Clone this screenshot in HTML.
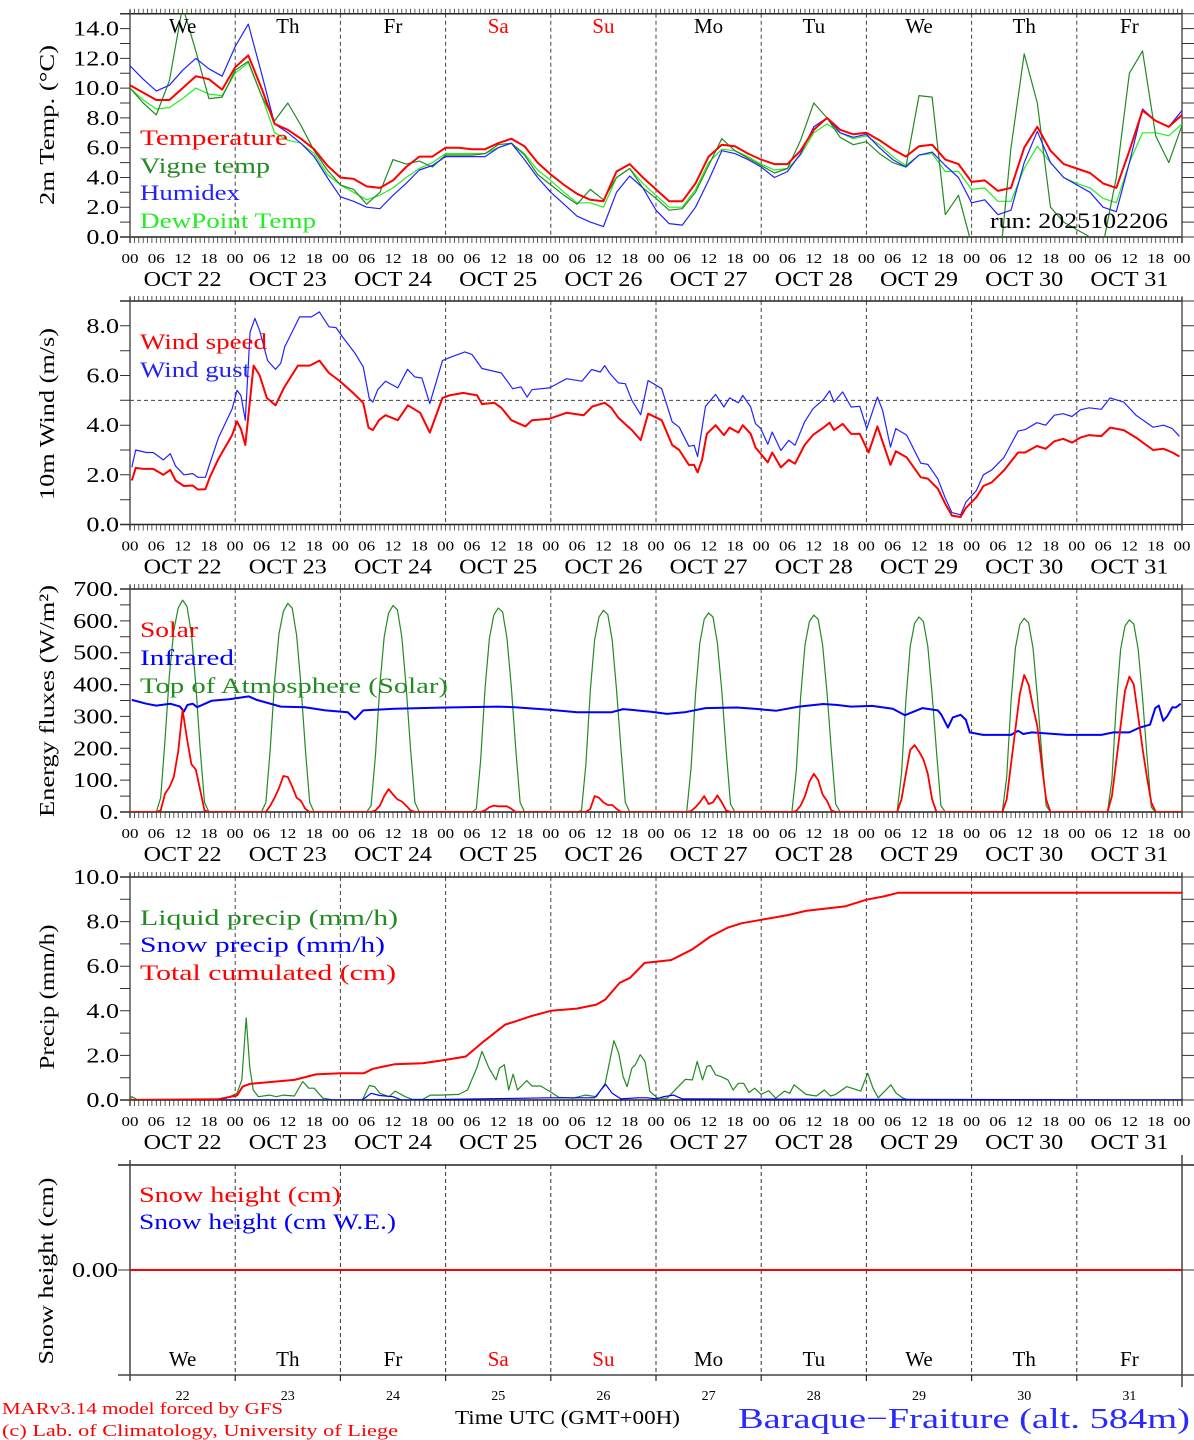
<!DOCTYPE html>
<html><head><meta charset="utf-8"><style>
html,body{margin:0;padding:0;background:#fff;}
svg{display:block;}
text{font-family:"Liberation Serif","DejaVu Serif",serif;}
</style></head><body>
<svg id="chart" xmlns="http://www.w3.org/2000/svg" width="1194" height="1440" viewBox="0 0 1194 1440"></svg>
<script>
// ===== DATA =====
const dayNames = ["We","Th","Fr","Sa","Su","Mo","Tu","We","Th","Fr"];
const dayNums = ["22","23","24","25","26","27","28","29","30","31"];
const hourLabels = ["00","06","12","18"];
const tempHours = [0,3,6,9,12,15,18,21,24,27,30,33,36,39,42,45,48,51,54,57,60,63,66,69,72,75,78,81,84,87,90,93,96,99,102,105,108,111,114,117,120,123,126,129,132,135,138,141,144,147,150,153,156,159,162,165,168,171,174,177,180,183,186,189,192,195,198,201,204,207,210,213,216,219,222,225,228,231,234,237,240];
const temperature = [10.2,9.7,9.2,9.2,10.0,10.8,10.6,9.9, 11.4,12.2,10.0,7.6,7.2,6.6,5.9,4.8, 4.0,3.9,3.4,3.3,3.8,4.7,5.4,5.4, 6.0,6.0,5.9,5.9,6.3,6.6,6.1,5.0, 4.2,3.5,2.9,2.5,2.4,4.4,4.9,4.0, 3.2,2.4,2.4,3.6,5.4,6.2,6.1,5.6, 5.2,4.9,4.9,5.8,7.2,8.0,7.2,6.9, 7.0,6.5,5.9,5.4,6.1,6.2,5.2,4.9, 3.7,3.8,3.1,3.3,6.0,7.4,5.8,4.9, 4.6,4.3,3.6,3.3,5.8,8.5,7.8,7.4, 8.2];
const humidex = [11.5,10.6,9.8,10.2,11.2,12.0,11.3,10.8, 12.8,14.3,11.0,7.6,7.0,6.3,5.4,4.0, 2.7,2.4,2.0,1.9,2.8,3.6,4.5,4.8, 5.4,5.4,5.4,5.4,6.0,6.3,5.2,4.0, 3.0,2.2,1.4,1.0,0.7,3.0,4.1,3.3, 1.8,0.9,0.8,2.0,3.8,5.8,5.6,5.2, 4.7,4.0,4.4,5.6,7.4,8.0,7.0,6.7, 6.9,6.0,5.2,4.7,5.5,5.7,4.8,4.0, 2.3,2.5,1.5,1.8,5.0,7.1,5.0,4.0, 3.5,3.0,2.0,1.7,5.0,8.6,7.8,7.4, 8.5];
const dewPoint = [10.0,9.2,8.6,8.7,9.3,10.0,9.6,9.5, 11.0,11.7,9.5,7.0,6.5,6.3,5.6,4.2, 3.5,3.0,2.5,2.8,3.3,4.0,4.6,5.0, 5.6,5.6,5.6,5.6,6.0,6.3,5.6,4.5, 3.8,3.0,2.3,2.3,2.0,4.0,4.6,3.6, 2.8,2.0,2.0,3.2,5.0,5.9,5.8,5.4, 4.9,4.5,4.6,5.5,7.0,7.6,7.0,6.6, 6.8,6.2,5.4,4.8,5.5,5.6,4.4,4.4, 3.2,3.3,2.4,2.4,4.6,6.1,5.0,4.0, 3.6,3.3,2.6,2.3,5.0,7.0,7.0,6.8, 7.6];
const vigneTemp = [10.0,9.0,8.2,10.5,15.5,12.5,9.3,9.4, 11.2,11.8,9.5,7.8,9.0,7.5,5.8,4.5, 3.5,3.2,2.2,3.0,5.2,4.9,5.1,4.7, 5.5,5.5,5.5,5.6,6.2,6.3,5.5,4.2, 3.5,2.8,2.2,3.2,2.5,4.0,4.6,3.3, 2.6,1.8,1.9,3.0,4.8,6.6,5.8,5.3, 4.8,4.3,4.6,6.5,9.0,8.0,6.7,6.2, 6.4,5.6,5.0,4.7,9.5,9.4,1.5,2.8, -0.5,-3,-3,6.0,12.3,9.0,2.0,1.0, 0.5,0.0,-0.5,4.0,11.0,12.5,6.8,5.0, 7.5];

const windHours = [0.4,1.3,3,5.3,7.6,9.2,10.4,12.3,14.3,15.5,17.2,18.2,20.2,23.3,24.4,25.3,26.3,28.2,29.6,31.2,33.2,35.1,38.3,41.0,43.2,45.4,47.7,50.9,53.2,54.4,55.4,56.8,58.3,61.1,63.4,66.2,68.4,71.3,72.9,76,79.2,80.3,83.1,84.7,87,90.2,91.7,95.7,99.6,103.5,105.5,108.3,109.8,111.4,114.5,116.5,118.2,121.3,123.7,125.3,127.5,128.7,129.5,130.5,131.6,133.6,135.5,136.8,138.8,139.8,141.6,142.7,145.5,146.5,148.5,150.3,151.7,153.9,155.8,158.2,159.6,160.6,162.6,164.5,166.5,168.5,170.5,173.5,174.7,177.2,180.4,182,184.3,185.9,187.5,189.5,190.7,193.1,194.7,196.6,199.4,202.6,204.2,206.9,208.9,210.9,212.9,214.9,216.8,218.8,221.6,223.6,226.7,229.5,233.4,235.8,237.8,239.4];
const windSpeed = [1.77,2.28,2.24,2.24,2.0,2.2,1.77,1.55,1.57,1.41,1.42,1.9,2.65,3.6,4.15,3.85,3.2,6.4,6.0,5.1,4.8,5.5,6.4,6.4,6.6,6.1,5.8,5.3,4.9,3.9,3.8,4.2,4.4,4.2,4.8,4.5,3.7,5.1,5.2,5.3,5.2,4.85,4.9,4.7,4.2,3.95,4.2,4.26,4.5,4.4,4.75,4.9,4.7,4.3,3.8,3.4,4.46,4.2,3.2,3.0,2.4,2.4,2.1,2.6,3.65,4.0,3.6,3.9,3.7,4.0,3.65,3.1,2.5,2.9,2.3,2.6,2.45,3.2,3.6,3.9,4.1,3.8,4.05,3.65,3.65,2.9,3.95,2.4,2.95,2.7,1.9,1.85,1.44,0.86,0.36,0.3,0.67,1.1,1.55,1.7,2.18,2.9,2.9,3.16,3.05,3.35,3.45,3.3,3.5,3.6,3.56,3.9,3.8,3.5,3.0,3.05,2.9,2.74];
const gustHours = [0.4,1.3,3.7,5.3,7.6,9.2,10.4,12.3,14.3,15.5,17.2,18.2,20.2,23.3,24.4,25.3,26.3,27.4,28.5,29.6,31.4,33.2,34.4,35.3,38.7,41.4,43.2,45.4,47,48.5,51.3,53.2,54.6,55.4,56.5,58.3,61.1,63.3,65,66.6,68.4,71.3,73.3,76.4,78,80.3,82.3,84.7,87.3,89.2,90.6,91.7,95.7,99.6,103.1,105.3,107.3,108.3,109.4,111.4,113,114.5,116.5,118.2,121.3,123.7,125.3,127.5,128.7,129.5,131.3,133.6,135.5,136.8,138.8,139.8,141.6,142.7,143.9,145.5,146.5,148.5,150.3,151.7,153.9,155.8,158.2,159.6,160.6,162.6,164.5,166.5,168.1,170.5,171.7,173.5,174.7,177.2,180.4,182,184.3,185.9,187.5,189.5,190.7,193.1,194.7,196.6,199.4,202.6,204.2,206.9,208.9,210.9,212.9,214.9,216.8,218.8,221.6,223.6,226.7,229.5,233.4,235.8,237.8,239.4];
const windGust = [2.3,3.0,2.9,2.9,2.6,2.85,2.35,2.0,2.05,1.9,1.9,2.45,3.5,4.65,5.4,5.2,4.2,7.75,8.3,7.8,6.6,6.25,6.5,7.15,8.36,8.36,8.56,7.96,7.93,7.55,6.9,6.35,5.07,4.93,5.43,5.77,5.5,6.25,5.94,5.9,4.87,6.6,6.75,6.95,6.85,6.28,6.2,6.1,5.47,5.54,5.13,5.43,5.5,5.87,5.77,6.24,6.14,6.4,6.1,5.7,5.67,5.0,4.42,5.8,5.47,4.13,3.92,3.15,3.19,2.74,4.76,5.24,4.73,5.1,4.9,5.2,4.73,4.06,3.86,3.23,3.72,2.98,3.39,3.19,4.13,4.66,5.03,5.38,4.93,5.34,4.73,4.76,3.86,5.13,4.6,3.12,3.86,3.6,2.47,2.42,1.84,1.1,0.48,0.39,0.9,1.37,2.0,2.2,2.7,3.76,3.82,4.1,4.0,4.4,4.46,4.35,4.62,4.7,4.64,5.1,4.93,4.4,3.92,4.0,3.86,3.55];

const radHourOfDay = [6,7,8,9,10,11,12,13,14,15,16,17,18];
const solarByDay = [
 [0,5,58,78,110,190,320,230,150,133,70,5,0],
 [0,0,20,45,75,113,110,80,45,35,10,0,0],
 [0,0,5,20,50,72,55,40,33,20,5,0,0],
 [0,0,0,5,15,20,18,18,18,10,0,0,0],
 [0,0,0,10,50,45,30,22,22,10,0,0,0],
 [0,0,3,15,30,50,25,30,52,30,5,0,0],
 [0,0,3,20,50,95,120,100,55,35,5,0,0],
 [0,0,40,120,195,210,190,165,120,40,0,0,0],
 [0,0,40,150,260,370,430,400,330,270,150,40,0],
 [0,0,50,160,270,380,425,400,300,200,110,30,0]];
const toaByDay = [
 [0,45,230,430,570,640,665,645,560,400,200,30,0],
 [0,30,200,410,560,630,655,640,555,400,200,30,0],
 [0,20,180,400,550,625,648,635,550,395,200,30,0],
 [0,10,165,390,545,618,640,628,545,390,200,30,0],
 [0,5,150,380,540,612,633,620,540,385,200,30,0],
 [0,0,140,370,530,605,625,612,530,380,195,25,0],
 [0,0,130,360,525,598,618,605,525,375,195,25,0],
 [0,0,120,350,520,592,612,598,520,370,190,20,0],
 [0,0,110,345,515,588,608,594,515,365,185,20,0],
 [0,0,100,340,510,584,603,590,510,360,180,15,0]];
const irHours = [0.4,3.7,6,9.2,11.4,12.3,13.1,14.3,15.3,18.6,22.6,27.1,28.9,34.4,39.9,44.6,49.7,51.3,53.2,60.3,72.1,83.9,87.8,95.7,102,109.8,112.5,118.6,122.5,126.5,131.3,138.4,142.4,147.5,152.6,158.2,161.4,164.5,169.3,174,176.8,180.8,184.3,185.1,186.6,187.7,189.5,190.7,191.6,194.6,197.8,201,202.6,203.8,205.7,213.7,221.6,224.4,228,230.3,232.7,233.9,234.7,235.7,236.6,237.8,238.6,239.7];
const infrared = [352,340,334,340,331,315,336,340,329,349,354,363,352,331,329,319,313,291,319,324,328,331,329,321,313,313,323,315,308,313,326,328,324,318,331,339,336,331,333,324,304,326,319,305,265,297,305,289,250,242,242,242,255,245,250,242,242,250,250,265,274,326,334,286,300,329,328,340];

const cumHours = [0,20,24.4,25.7,27.3,37.5,42.4,48,53.4,55.4,60.3,66.8,72,76.6,80.7,85.6,88,91.3,96,101.9,106.4,108.4,111.7,114.1,117.4,120,123.5,128.3,132.4,136.4,139.6,144,150.1,154.2,163.1,168,172,175.2,240];
const totalCum = [0,0.03,0.2,0.6,0.72,0.9,1.15,1.2,1.2,1.4,1.6,1.65,1.8,1.95,2.63,3.38,3.53,3.75,4.0,4.1,4.28,4.5,5.25,5.48,6.15,6.2,6.28,6.76,7.33,7.73,7.93,8.08,8.29,8.48,8.68,8.98,9.13,9.29,9.29];
const liqHours = [0,0.4,1.5,20,22,24.4,25.5,26.5,27.3,28.1,29.3,31.8,33.4,35,37.5,39.4,40.8,42,44,46.5,53,54.6,55.8,57,59.1,60.5,62.8,64.4,66.8,68.5,70.9,75,77,79.1,80.3,81.9,83.5,84.3,85.4,86.4,87.4,88.4,90.5,91.7,93.7,95.8,97.8,101.1,103.9,106.4,108.4,110.4,111.5,112.5,113.4,114.5,115.3,116.4,117.5,118.6,120.4,122.5,126.7,128.3,129.4,130.6,131.6,132.4,133.6,134.8,136.4,137.6,138.8,140,141.2,142.5,144,145.7,147.3,149.3,150.5,151.5,154.2,156.6,158.4,159.8,161,163.5,166.7,168.3,169.5,170.7,173.6,174.8,176.4,177.6,240];
const liquidPrecip = [0,0.15,0.03,0,0.08,0.3,0.9,3.68,1.5,0.45,0.15,0.22,0.15,0.22,0.18,0.83,0.53,0.53,0.08,0,0,0.65,0.6,0.3,0.15,0.4,0.15,0.03,0.03,0.22,0.22,0.25,0.45,1.43,2.18,1.43,0.9,1.43,1.58,0.45,1.16,0.45,0.87,0.63,0.63,0.38,0.12,0.08,0.22,0.15,0.75,2.66,2.1,1.05,0.6,1.43,1.58,2.03,1.73,0.38,0.08,0.08,0.93,0.9,1.73,0.9,1.5,1.55,1.13,1.05,0.9,0.45,0.75,0.75,0.33,0.53,0.25,0.42,0.08,0.4,0.3,0.68,0.25,0.18,0.45,0.18,0.25,0.6,0.4,1.2,0.53,0.1,0.68,0.3,0.08,0,0];
const snowHours = [0,53,55,57,60,62,96,106,108.5,110,112,116,118,120,121.7,124,126,240];
const snowPrecip = [0,0,0.3,0.2,0.15,0,0.1,0.1,0.7,0.3,0.05,0.1,0.1,0.05,0.15,0.22,0.05,0];
const snowHtHours = [0,240];
const snowHeight = [0,0];

// ===== RENDER =====
const svg = document.getElementById('chart');
const NS = 'http://www.w3.org/2000/svg';
const L = 130, R = 1182;
const X = t => L + t * (R - L) / 240;
function mk(tag, attrs, parent) {
  const e = document.createElementNS(NS, tag);
  for (const k in attrs) e.setAttribute(k, attrs[k]);
  (parent || svg).appendChild(e);
  return e;
}
function txt(x, y, s, size, fill, anchor, len, parent) {
  const t = mk('text', {x: x, y: y, 'font-size': size, fill: fill || '#000', 'text-anchor': anchor || 'start'}, parent);
  if (len) { t.setAttribute('textLength', len); t.setAttribute('lengthAdjust', 'spacingAndGlyphs'); }
  t.textContent = s;
  return t;
}
const panels = [
  {top: 13.7, bot: 237, max: 15, labMax: 14, tick: 1, lab: 2, fmt: v => v.toFixed(1), title: "2m Temp. (\u00B0C)", tlen: 160, tcy: 125},
  {top: 301, bot: 524.5, max: 9, labMax: 8, tick: 1, lab: 2, fmt: v => v.toFixed(1), title: "10m Wind (m/s)", tlen: 172, tcy: 414},
  {top: 589, bot: 812, max: 700, labMax: 700, tick: 50, lab: 100, fmt: v => v + ".", title: "Energy fluxes (W/m\u00B2)", tlen: 232, tcy: 701},
  {top: 877, bot: 1100, max: 10, labMax: 10, tick: 1, lab: 2, fmt: v => v.toFixed(1), title: "Precip (mm/h)", tlen: 145, tcy: 997}
];
function yOf(p, v) { return p.bot - v * (p.bot - p.top) / p.max; }
function labW(s) { let w = 0; for (const c of s) w += (c === '.' ? 6 : 13.3); return w; }

panels.forEach((p, i) => {
  const g = mk('g', {});
  
  
  const cp = mk('clipPath', {id: 'clip' + i}, g);
  mk('rect', {x: L, y: p.top, width: R - L, height: p.bot - p.top}, cp);
  for (let d = 1; d < 10; d++) {
    const dl = mk('line', {x1: X(d * 24), x2: X(d * 24), y1: p.top, y2: p.bot, stroke: '#444', 'stroke-width': 1, 'stroke-dasharray': '4,3'}, g);
    
    
  }
  mk('line', {x1: L - 10, x2: R, y1: p.top, y2: p.top, stroke: '#222', 'stroke-width': 1.5}, g);
  mk('line', {x1: L - 10, x2: R, y1: p.bot, y2: p.bot, stroke: '#222', 'stroke-width': 1.5}, g);
  mk('line', {x1: L, x2: L, y1: p.top - 4, y2: p.bot + 6, stroke: '#555', 'stroke-width': 1.5}, g);
  mk('line', {x1: R, x2: R, y1: p.top - 4, y2: p.bot + 6, stroke: '#555', 'stroke-width': 1.5}, g);
  let dstr = '';
  for (let h = 0; h <= 240; h++) {
    const x = X(h).toFixed(1);
    dstr += `M${x} ${p.top - 5}V${p.top}M${x} ${p.bot}V${p.bot + 6}`;
  }
  const ht = mk('path', {d: dstr, stroke: '#333', 'stroke-width': 0.8, fill: 'none'}, g);
  
  
  let ty = '';
  for (let v = 0; v <= p.max + 1e-9; v += p.tick) {
    const y = yOf(p, v).toFixed(1);
    ty += `M${L - 10} ${y}H${L}M${R} ${y}H${R + 12}`;
  }
  mk('path', {d: ty, stroke: '#333', 'stroke-width': 1, fill: 'none'}, g);
  for (let v = 0; v <= p.labMax + 1e-9; v += p.lab) {
    const s = p.fmt(v);
    const lt = txt(119, yOf(p, v) + 7, s, 21, '#000', 'end', labW(s), g);
    
    
  }
  for (let d = 0; d <= 10; d++) {
    for (let k = 0; k < 4; k++) {
      if (d === 10 && k > 0) break;
      const xl = txt(X(d * 24 + k * 6), p.bot + 26, hourLabels[k], 14, '#000', 'middle', 17, g);
      
      
    }
    if (d < 10) {
      const ol = txt(X(d * 24 + 12), p.bot + 49, "OCT " + dayNums[d], 21, '#000', 'middle', 78, g);
      
      
    }
  }
  const yt = mk('text', {x: 0, y: 0, 'font-size': 21, 'text-anchor': 'middle', transform: `translate(54 ${p.tcy}) rotate(-90)`, textLength: p.tlen, lengthAdjust: 'spacingAndGlyphs'}, g);
  yt.textContent = p.title;
  
  
  p.g = g;
});

function series(pi, hours, vals, color, width, name) {
  const p = panels[pi];
  let d = '';
  hours.forEach((h, k) => { d += (k ? 'L' : 'M') + X(h).toFixed(1) + ' ' + yOf(p, vals[k]).toFixed(1); });
  const e = mk('path', {d: d, stroke: color, 'stroke-width': width, fill: 'none', 'clip-path': `url(#clip${pi})`, 'stroke-linejoin': 'round'}, p.g);
  
  
}
function legend(x, y, s, color, len, name, parent) {
  const e = txt(x, y, s, 22, color, 'start', len, parent || svg);
  
  
}

// Panel 1
series(0, tempHours, dewPoint, '#22ee22', 1.2, 'dewpoint-line');
series(0, tempHours, vigneTemp, '#228b22', 1.2, 'vigne-temp-line');
series(0, tempHours, humidex, '#2222ff', 1.2, 'humidex-line');
series(0, tempHours, temperature, '#ff0000', 2, 'temperature-line');
dayNames.forEach((n, d) => {
  const e = txt(X(d * 24 + 12), 33, n, 21, (d === 3 || d === 4) ? '#ff0000' : '#000', 'middle', null, panels[0].g);
  
  
});
legend(140, 145, 'Temperature', '#ff0000', 148, 'legend-temperature');
legend(140, 173, 'Vigne temp', '#228b22', 130, 'legend-vigne-temp');
legend(140, 200, 'Humidex', '#2222ff', 100, 'legend-humidex');
legend(140, 228, 'DewPoint Temp', '#22ee22', 176, 'legend-dewpoint');
legend(990, 228, 'run: 2025102206', '#000', 178, 'run-label');

// Panel 2
const h5 = mk('line', {x1: L, x2: R, y1: yOf(panels[1], 5), y2: yOf(panels[1], 5), stroke: '#444', 'stroke-dasharray': '4,3', 'stroke-width': 1}, panels[1].g);


series(1, gustHours, windGust, '#2222ff', 1.2, 'wind-gust-line');
series(1, windHours, windSpeed, '#ff0000', 2, 'wind-speed-line');
legend(140, 349, 'Wind speed', '#ff0000', 127, 'legend-wind-speed');
legend(140, 377, 'Wind gust', '#2222ff', 110, 'legend-wind-gust');

// Panel 3
const radHours = [], toaVals = [], solarVals = [];
toaByDay.forEach((arr, d) => arr.forEach((v, k) => { radHours.push(d * 24 + radHourOfDay[k]); toaVals.push(v); solarVals.push(solarByDay[d][k]); }));
radHours.unshift(0); toaVals.unshift(0); solarVals.unshift(0);
radHours.push(240); toaVals.push(0); solarVals.push(0);
series(2, radHours, toaVals, '#228b22', 1.2, 'toa-solar-line');
series(2, irHours, infrared, '#0000ff', 2, 'infrared-line');
series(2, radHours, solarVals, '#ff0000', 1.8, 'solar-line');
legend(140, 637, 'Solar', '#ff0000', 58, 'legend-solar');
legend(140, 665, 'Infrared', '#0000ff', 94, 'legend-infrared');
legend(140, 693, 'Top of Atmosphere (Solar)', '#228b22', 308, 'legend-toa');

// Panel 4
series(3, liqHours, liquidPrecip, '#228b22', 1.2, 'liquid-precip-line');
series(3, snowHours, snowPrecip, '#0000ff', 1.2, 'snow-precip-line');
series(3, cumHours, totalCum, '#ff0000', 2, 'total-cumulated-line');
legend(140, 925, 'Liquid precip (mm/h)', '#228b22', 258, 'legend-liquid-precip');
legend(140, 952, 'Snow precip (mm/h)', '#0000ff', 245, 'legend-snow-precip');
legend(140, 980, 'Total cumulated (cm)', '#ff0000', 256, 'legend-total-cumulated');

// Panel 5 (snow)
const g5 = mk('g', {});


const P5top = 1165, P5bot = 1375, P5zero = 1270;
for (let d = 1; d < 10; d++) {
  const dl = mk('line', {x1: X(d * 24), x2: X(d * 24), y1: P5top, y2: P5bot, stroke: '#333', 'stroke-width': 1, 'stroke-dasharray': '4,3'}, g5);
  
  
}
mk('line', {x1: L - 12, x2: R + 12, y1: P5top, y2: P5top, stroke: '#222', 'stroke-width': 1.5}, g5);
mk('line', {x1: L - 12, x2: R + 12, y1: P5bot, y2: P5bot, stroke: '#444', 'stroke-width': 1.5}, g5);
mk('line', {x1: L, x2: L, y1: P5top - 5, y2: P5bot + 6, stroke: '#444', 'stroke-width': 1.5}, g5);
mk('line', {x1: R, x2: R, y1: P5top - 10, y2: P5bot + 12, stroke: '#444', 'stroke-width': 1.5}, g5);
for (let d = 1; d < 10; d++) mk('line', {x1: X(d * 24), x2: X(d * 24), y1: P5bot, y2: P5bot + 6, stroke: '#222', 'stroke-width': 1.2}, g5);
mk('line', {x1: L - 12, x2: L, y1: P5zero, y2: P5zero, stroke: '#333', 'stroke-width': 1}, g5);
mk('line', {x1: R, x2: R + 12, y1: P5zero, y2: P5zero, stroke: '#333', 'stroke-width': 1}, g5);
const z5 = txt(118, P5zero + 7, '0.00', 21, '#000', 'end', 46, g5);


const sY = v => P5zero - v * 50;
let sd = '';
snowHtHours.forEach((h, k) => { sd += (k ? 'L' : 'M') + X(h).toFixed(1) + ' ' + sY(snowHeight[k]).toFixed(1); });
const sl = mk('path', {d: sd, stroke: '#ff0000', 'stroke-width': 2, fill: 'none'}, g5);


dayNames.forEach((n, d) => {
  const e = txt(X(d * 24 + 12), 1366, n, 21, (d === 3 || d === 4) ? '#ff0000' : '#000', 'middle', null, g5);
  
  
  const e2 = txt(X(d * 24 + 12), 1400, dayNums[d], 14, '#000', 'middle', null, g5);
  
  
});
const yt5 = mk('text', {x: 0, y: 0, 'font-size': 21, 'text-anchor': 'middle', transform: 'translate(53 1271) rotate(-90)', textLength: 187, lengthAdjust: 'spacingAndGlyphs'}, g5);
yt5.textContent = 'Snow height (cm)';


legend(139, 1202, 'Snow height (cm)', '#ff0000', 202, 'legend-snow-height');
legend(139, 1229, 'Snow height (cm W.E.)', '#0000ff', 257, 'legend-snow-height-we');

// Footer
const f1 = txt(2, 1414, 'MARv3.14 model forced by GFS', 17, '#ff0000', 'start', 281);


const f2 = txt(2, 1436, '(c) Lab. of Climatology, University of Liege', 17, '#ff0000', 'start', 396);


const f3 = txt(455, 1424, 'Time UTC (GMT+00H)', 20, '#000', 'start', 225);


const f4 = txt(738, 1428, 'Baraque\u2212Fraiture (alt. 584m)', 29, '#2a2aff', 'start', 452);


</script>
</body></html>
